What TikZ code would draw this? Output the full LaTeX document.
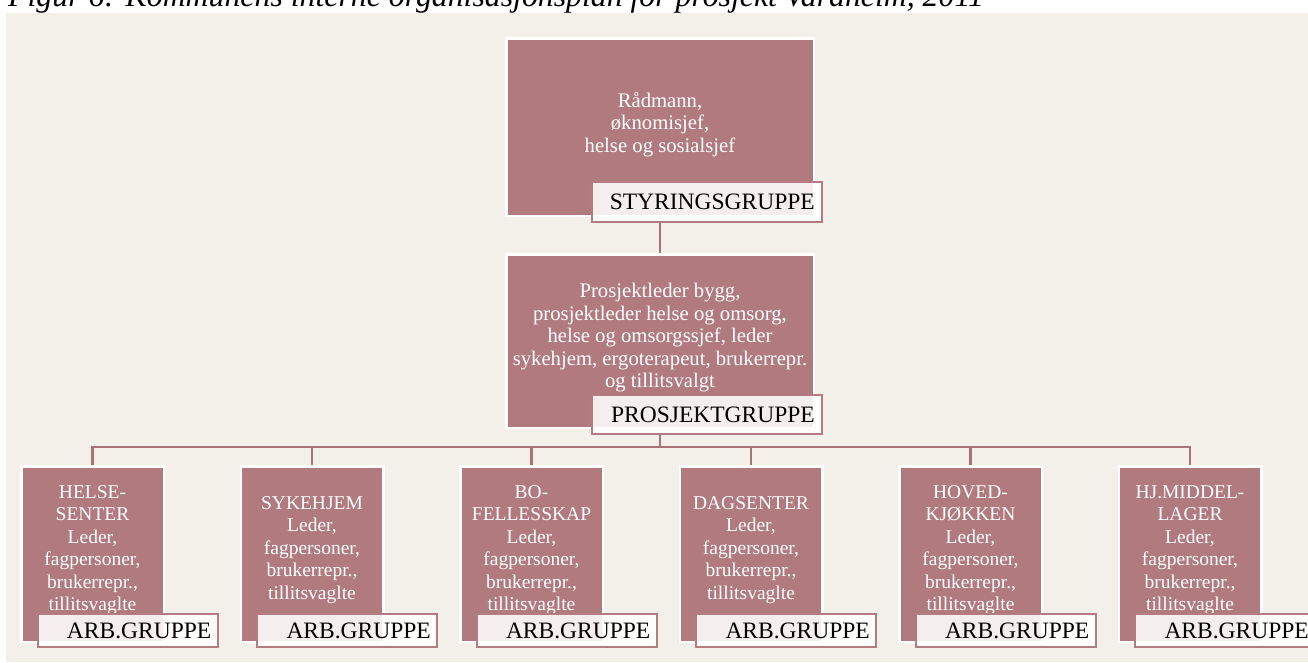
\documentclass[tikz,border=0pt]{standalone}
\usepackage{fontspec}
\setmainfont{Liberation Serif}
\definecolor{panel}{RGB}{243,240,233}
\definecolor{mauve}{RGB}{176,122,126}
\definecolor{linkc}{RGB}{168,114,119}
\definecolor{tagedge}{RGB}{178,124,128}
\pgfdeclarelayer{bg}
\pgfsetlayers{bg,main}
\newcommand\arbmembers{Leder,\\fagpersoner,\\brukerrepr.,\\tillitsvaglte}
\tikzset{
  unitbox/.style={rectangle, fill=mauve, draw=white, line width=2.5pt,
    inner sep=0pt, outer sep=0pt},
  tagbox/.style={rectangle, fill=white, fill opacity=0.88, draw=tagedge,
    draw opacity=1, line width=2pt, inner sep=0pt, outer sep=0pt},
  boxtext/.style={text=white, align=center, inner sep=0pt,
    font=\fontsize{19.5}{22.5}\selectfont},
  bigboxtext/.style={boxtext, font=\fontsize{20.7}{22.5}\selectfont},
  tagtext/.style={text=black, inner sep=0pt, anchor=east,
    font=\fontsize{23.5}{26}\selectfont},
  link/.style={draw=linkc, line width=2.5pt, line join=miter},
}
\begin{document}
\begin{tikzpicture}[x=1pt,y=-1pt]
\useasboundingbox (0,0) rectangle (1308,662);

% caption above the chart
\node[anchor=base west, inner sep=0pt, font=\fontsize{31.8}{34}\selectfont\itshape]
  (caption) at (8,6) {Figur 6: Kommunens interne organisasjonsplan for prosjekt Varaheim, 2011};

% steering group
\node[unitbox, minimum width=307.5pt, minimum height=177.5pt] (steer) at (660,127) {};
\node[bigboxtext] (steer-txt) at (660,124.5) {Rådmann,\\øknomisjef,\\helse og sosialsjef};
\node[tagbox, minimum width=230pt, minimum height=40pt] (steertag) at (707,202) {};
\node[tagtext, xshift=-7pt] (steertag-txt) at (steertag.east) {STYRINGSGRUPPE};

% project group
\node[unitbox, minimum width=307.5pt, minimum height=173.5pt] (proj) at (660,341) {};
\node[bigboxtext] (proj-txt) at (660,338) {Prosjektleder bygg,\\prosjektleder helse og omsorg,\\helse og omsorgssjef, leder\\sykehjem, ergoterapeut, brukerrepr.\\og tillitsvalgt};
\node[tagbox, minimum width=230pt, minimum height=39pt] (projtag) at (707,414.5) {};
\node[tagtext, xshift=-7pt] (projtag-txt) at (projtag.east) {PROSJEKTGRUPPE};

% working groups
\foreach \n/\cx/\head in {1/92.5/{HELSE-\\SENTER}, 2/312/{SYKEHJEM}, 3/531.5/{BO-\\FELLESSKAP},
    4/751/{DAGSENTER}, 5/970.5/{HOVED-\\KJØKKEN}, 6/1190/{HJ.MIDDEL-\\LAGER}} {
  \node[unitbox, minimum width=142.5pt, minimum height=175.5pt] (u\n) at (\cx,554) {};
  \node[boxtext] (u\n-txt) at (\cx,550) {\head\\\arbmembers};
  \node[tagbox, minimum width=180pt, minimum height=33pt] (u\n-tag) at (\cx+35,630.5) {};
  \node[tagtext, xshift=-6pt] (u\n-tagtxt) at (u\n-tag.east) {ARB.GRUPPE};
}

% page, panel and connectors behind the boxes
\coordinate (bus) at (0,447);
\begin{pgfonlayer}{bg}
  \fill[white] (0,0) rectangle (1308,662);
  \fill[panel] (6,13) rectangle (1308,662);
  \draw[link] (steertag.south -| steer.south) -- (proj.north);
  \foreach \n in {1,...,6}
    \draw[link] (projtag.south -| proj.south) -- (proj.south |- bus) -| (u\n.north);
\end{pgfonlayer}
\end{tikzpicture}
\end{document}
